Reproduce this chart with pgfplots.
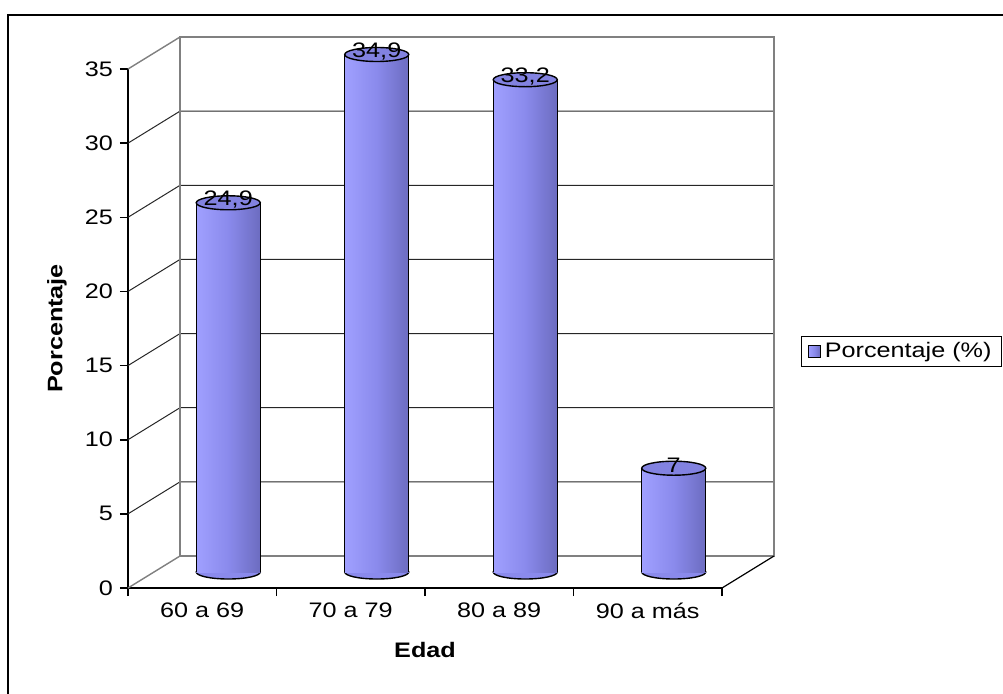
\documentclass[border=0pt]{standalone}
\usepackage{fontspec}
\setmainfont{Liberation Sans}[FakeStretch=1.2]
\usepackage{pgfplots}
\pgfplotsset{compat=1.18}
\definecolor{cylL}{HTML}{A0A0FF}
\definecolor{cylM}{HTML}{8A8AEC}
\definecolor{cylR}{HTML}{6C6CC0}
\definecolor{cylTop}{HTML}{8282E0}
\definecolor{wall}{HTML}{808080}
\newcommand{\cf}{\fontsize{10.5}{12.6}\selectfont}
\pgfdeclareplotmark{cylend}{\pgfpathellipse{\pgfpointorigin}{\pgfqpoint{16pt}{0pt}}{\pgfqpoint{0pt}{3.5pt}}\pgfusepathqfillstroke}
\begin{document}
\begin{tikzpicture}
\path[use as bounding box] (0,0) rectangle (501.5pt,-346.5pt);
\draw[line width=1pt] (4pt,-347pt) -- (4pt,-7.5pt) -- (502pt,-7.5pt);
\begin{axis}[at={(64pt,-294pt)}, anchor=south west, scale only axis,
  width=297pt, height=259.5pt, xmin=0, xmax=4, ymin=0, ymax=35, clip=false,
  axis lines=left, axis line style={-, line width=0.8pt, black},
  tick align=outside, major tick length=4pt, tick style={line width=0.8pt, black},
  ytick={0,5,...,35}, xtick={0,1,2,3,4},
  xticklabels={60 a 69,70 a 79,80 a 89,90 a más}, x tick label as interval,
  tick label style={font=\cf}, /pgf/number format/assume math mode=true,
  xlabel={\textbf{Edad}}, ylabel={\textbf{Porcentaje}},
  every axis x label/.style={at={(axis description cs:0.5,0)}, anchor=center, yshift=-31pt, font=\cf},
  every axis y label/.style={at={(axis description cs:0,0.5)}, anchor=center, rotate=90, yshift=35.5pt, font=\cf}]
\pgfplotsinvokeforeach{5,10,15,20,25,30}{
  \draw[black!85, line width=0.5pt] (axis cs:0,#1) -- ([shift={(26pt,16pt)}]axis cs:0,#1) -- ([shift={(26pt,16pt)}]axis cs:4,#1);
}
\draw[wall, line width=0.7pt] (axis cs:0,0) -- ([shift={(26pt,16pt)}]axis cs:0,0);
\draw[wall, line width=0.7pt] (axis cs:0,35) -- ([shift={(26pt,16pt)}]axis cs:0,35);
\draw[wall, line width=0.7pt] ([shift={(26pt,16pt)}]axis cs:0,0) rectangle ([shift={(26pt,16pt)}]axis cs:4,35);
\draw[black, line width=0.6pt] (axis cs:4,0) -- ([shift={(26pt,16pt)}]axis cs:4,0);
\end{axis}
\begin{axis}[at={(77pt,-286pt)}, anchor=south west, scale only axis,
  width=297pt, height=259.5pt, xmin=0, xmax=4, ymin=0, ymax=35, clip=false,
  clip marker paths=true, hide axis,
  legend style={at={(1.4276,0.4249)}, anchor=east, draw=black, line width=0.5pt,
    font=\cf, inner xsep=3pt, inner ysep=1pt},
  legend cell align=left,
  /pgf/number format/assume math mode=true, /pgf/number format/use comma]
\addplot[only marks, mark=cylend, mark options={fill=cylM, draw=black, line width=0.7pt}, forget plot]
  coordinates {(0.5,0) (1.5,0) (2.5,0) (3.5,0)};
\addplot[ybar, bar width=32pt, bar shift=0pt, draw=none, left color=cylL, right color=cylR, middle color=cylM,
  legend image code/.code={\draw[fill=cylL, draw=black, line width=0.5pt] (0pt,-3pt) rectangle (6pt,3pt);}]
  coordinates {(0.5,24.9)};
\addlegendentry{Porcentaje (\%)}
\addplot[ybar, bar width=32pt, bar shift=0pt, draw=none, left color=cylL, right color=cylR, middle color=cylM, forget plot]
  coordinates {(1.5,34.9)};
\addplot[ybar, bar width=32pt, bar shift=0pt, draw=none, left color=cylL, right color=cylR, middle color=cylM, forget plot]
  coordinates {(2.5,33.2)};
\addplot[ybar, bar width=32pt, bar shift=0pt, draw=none, left color=cylL, right color=cylR, middle color=cylM, forget plot]
  coordinates {(3.5,7)};
\addplot[ycomb, black, line width=0.7pt, xshift=-16pt, mark=none, forget plot]
  coordinates {(0.5,24.9) (1.5,34.9) (2.5,33.2) (3.5,7)};
\addplot[ycomb, black, line width=0.7pt, xshift=16pt, mark=none, forget plot]
  coordinates {(0.5,24.9) (1.5,34.9) (2.5,33.2) (3.5,7)};
\addplot[only marks, mark=cylend, mark options={fill=cylTop, draw=black, line width=0.7pt},
  nodes near coords, every node near coord/.style={anchor=center, yshift=1.5pt, font=\cf, text=black}, forget plot]
  coordinates {(0.5,24.9) (1.5,34.9) (2.5,33.2) (3.5,7)};
\end{axis}
\end{tikzpicture}
\end{document}
